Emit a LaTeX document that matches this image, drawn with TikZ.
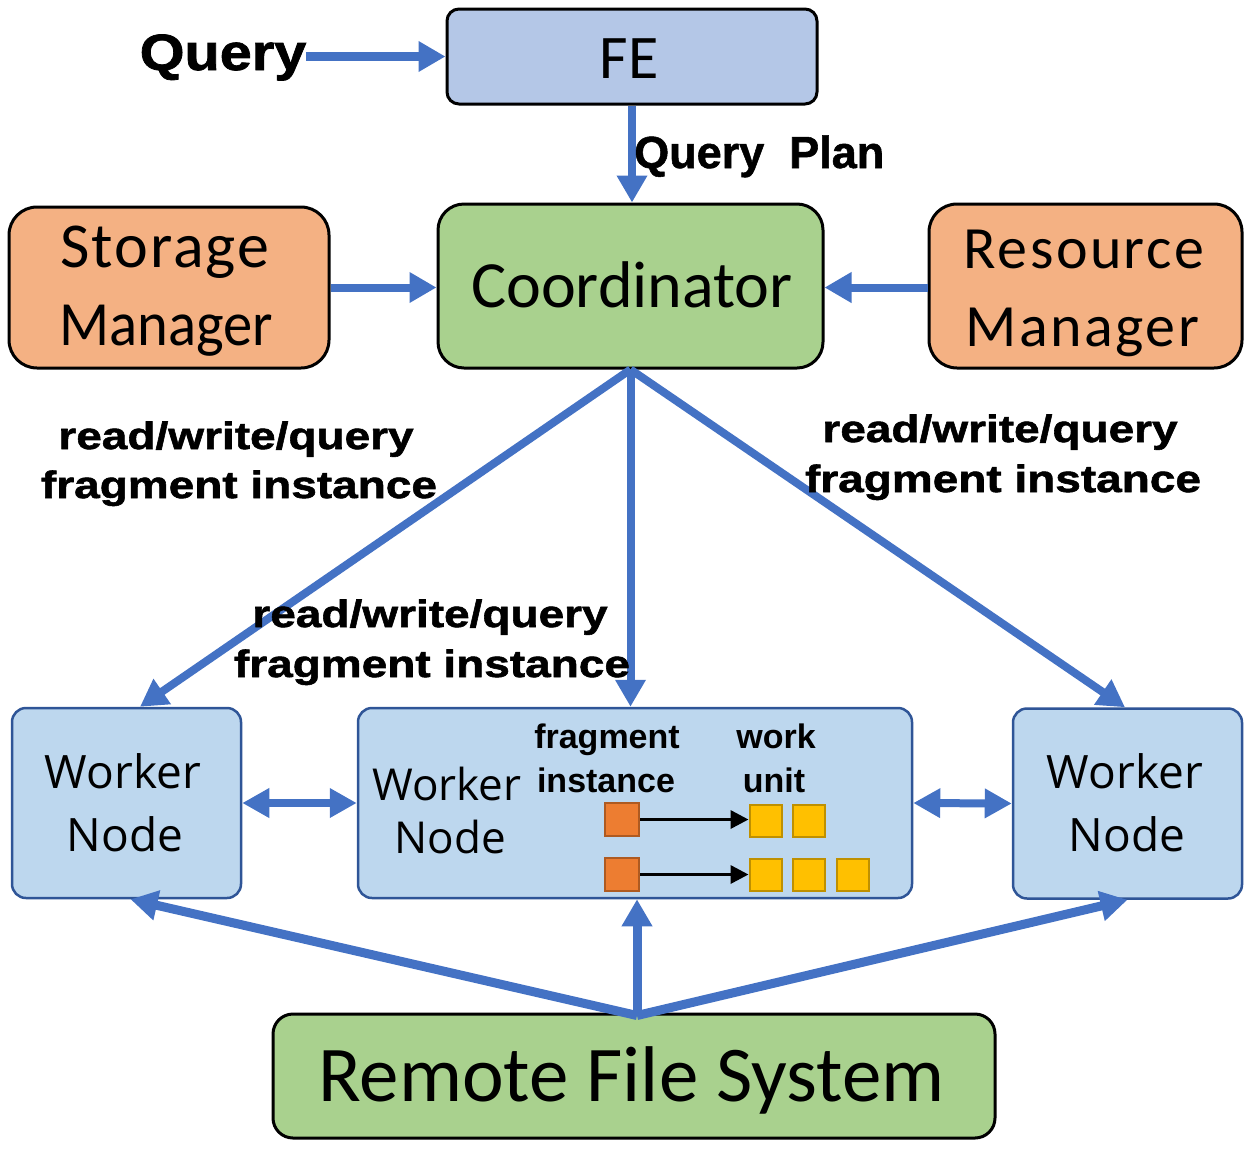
\documentclass[tikz,border=0pt]{standalone}
\usepackage{fontspec}
\setmainfont{Carlito}
\newfontfamily\lblfont{Liberation Sans}[FakeStretch=1.21, FakeBold=1.5]
\newfontfamily\qfont{Liberation Sans}[FakeStretch=1.13, FakeBold=1.5]
\newfontfamily\afont{Liberation Sans}
\newfontfamily\qpfont{Liberation Sans}[FakeBold=1.2]
\newfontfamily\wfont{Open Sans}
\newfontfamily\spfont{Carlito}[LetterSpace=4]
\newfontfamily\stfont{Carlito}[LetterSpace=3]
\newfontfamily\narfont{Carlito}[FakeStretch=0.93]
\usetikzlibrary{arrows.meta}
\definecolor{feblue}{HTML}{B4C7E7}
\definecolor{cgreen}{HTML}{A9D18E}
\definecolor{morange}{HTML}{F4B183}
\definecolor{wblue}{HTML}{BDD7EE}
\definecolor{wborder}{HTML}{2F5597}
\definecolor{ablue}{HTML}{4472C4}
\definecolor{fiorange}{HTML}{ED7D31}
\definecolor{fiborder}{HTML}{AE5A21}
\definecolor{wuyellow}{HTML}{FFC000}
\definecolor{wuborder}{HTML}{BF9000}
\begin{document}
\begin{tikzpicture}[x=1pt,y=-1pt,
  blackbox/.style={draw=black, line width=3pt, inner sep=0pt},
  workerbox/.style={draw=wborder, line width=2.5pt, fill=wblue, rounded corners=14pt, inner sep=0pt, minimum height=190pt},
  txt/.style={inner sep=0pt, anchor=base},
  bluearrow/.style={draw=ablue, line width=8pt, -{Triangle[length=27pt,width=29pt]}},
  bluedouble/.style={draw=ablue, line width=8pt, {Triangle[length=27pt,width=28pt]}-{Triangle[length=27pt,width=28pt]}},
  blackarrow/.style={draw=black, line width=3.5pt, -{Triangle[length=18pt,width=18pt]}},
  fisq/.style={draw=fiborder, fill=fiorange, line width=2pt, minimum width=34pt, minimum height=33pt, inner sep=0pt},
  wusq/.style={draw=wuborder, fill=wuyellow, line width=2pt, minimum width=32pt, minimum height=32pt, inner sep=0pt},
  lbl/.style={txt, font=\lblfont\bfseries\fontsize{38}{46}\selectfont},
  wtxt/.style={txt, font=\wfont\fontsize{46}{55}\selectfont},
  smalltxt/.style={txt, font=\afont\bfseries\fontsize{34}{40}\selectfont}
]
\useasboundingbox (0,0) rectangle (1252,1149);

% boxes
\node[blackbox, fill=feblue, rounded corners=12pt, minimum width=370pt, minimum height=95pt] (fe) at (632,56.5) {};
\node[blackbox, fill=cgreen, rounded corners=26pt, minimum width=385pt, minimum height=164pt] (coord) at (630.5,286) {};
\node[blackbox, fill=morange, rounded corners=28pt, minimum width=320pt, minimum height=161pt] (sm) at (169,287.5) {};
\node[blackbox, fill=morange, rounded corners=28pt, minimum width=313pt, minimum height=164pt] (rm) at (1085.5,286) {};
\node[workerbox, minimum width=229pt] (wl) at (126.5,803) {};
\node[workerbox, minimum width=554pt] (wc) at (635,803) {};
\node[workerbox, minimum width=229pt] (wr) at (1127.5,803.5) {};
\node[blackbox, fill=cgreen, rounded corners=20pt, minimum width=722pt, minimum height=124pt] (rfs) at (634,1076) {};

% fragment instances and work units
\node[fisq] (o1) at (622,819.5) {};
\node[fisq] (o2) at (622,874.5) {};
\node[wusq] (y1) at (765.5,821) {};
\node[wusq] (y2) at (808.5,821) {};
\node[wusq] (y3) at (765.5,875) {};
\node[wusq] (y4) at (808.5,875) {};
\node[wusq] (y5) at (853,875) {};
\draw[blackarrow] (o1.east) -- (o1.east -| y1.west);
\draw[blackarrow] (o2.east) -- (o2.east -| y3.west);

% query text
\node[txt, font=\qfont\bfseries\fontsize{51}{60}\selectfont] (qt) at (223,70) {Query};

% blue connectors
\draw[bluearrow, line width=9pt] (qt.east |- fe.west) -- (fe.west);
\draw[bluearrow] (fe.south) -- (fe.south |- coord.north);
\draw[bluearrow] (sm.east) -- (coord.west |- sm.east);
\draw[bluearrow] (rm.west |- sm.east) -- (coord.east |- sm.east);
\draw[bluearrow] (coord.south) -- ([xshift=13.5pt]wl.north);
\draw[bluearrow] (coord.south) -- (coord.south |- wc.north);
\draw[bluearrow] (coord.south) -- ([xshift=-2.5pt]wr.north);
\coordinate (ap) at ([xshift=3pt,yshift=-3pt]rfs.north);
\draw[bluearrow, line width=9pt] (ap) -- ([xshift=4pt]wl.south);
\draw[bluearrow, line width=9pt] (ap) -- (ap |- wc.south);
\draw[bluearrow, line width=9pt] (ap) -- (wr.south);
\draw[bluedouble] (wl.east) -- (wc.west);
\draw[bluedouble] (wc.east) -- (wr.west);

% texts
\node[txt, anchor=base west, font=\qpfont\bfseries\fontsize{45}{52}\selectfont] (qp) at (634,168) {Query\ \ Plan};
\node[txt, font=\fontsize{62}{70}\selectfont] (fet) at (629,78) {FE};
\node[txt, font=\fontsize{66}{70}\selectfont] (coordt) at (632,307) {Coordinator};
\node[txt, font=\stfont\fontsize{64}{70}\selectfont] (sm1) at (165,267) {Storage};
\node[txt, font=\narfont\fontsize{63}{70}\selectfont] (sm2) at (166.5,345) {Manager};
\node[txt, font=\spfont\fontsize{60}{70}\selectfont] (rm1) at (1084,268) {Resource};
\node[txt, font=\spfont\fontsize{60}{70}\selectfont] (rm2) at (1082.5,346) {Manager};
\node[wtxt] (wl1) at (123,788) {Worker};
\node[wtxt] (wl2) at (125,851) {Node};
\node[wtxt] (wr1) at (1125,788) {Worker};
\node[wtxt] (wr2) at (1127,851) {Node};
\node[wtxt, font=\wfont\fontsize{44}{52}\selectfont] (wc1) at (447,800) {Worker};
\node[wtxt, font=\wfont\fontsize{44}{52}\selectfont] (wc2) at (450,853) {Node};
\node[smalltxt] (fi1) at (607,748) {fragment};
\node[smalltxt] (fi2) at (606,792) {instance};
\node[smalltxt] (wu1) at (776,748) {work};
\node[smalltxt] (wu2) at (774,792) {unit};
\node[lbl] (ll1) at (236,449) {read/write/query};
\node[lbl] (ll2) at (239,498) {fragment instance};
\node[lbl] (rl1) at (1000,442) {read/write/query};
\node[lbl] (rl2) at (1003,492) {fragment instance};
\node[lbl] (ml1) at (430,627) {read/write/query};
\node[lbl] (ml2) at (432,677) {fragment instance};
\node[txt, font=\fontsize{79}{86}\selectfont] (rfst) at (631.5,1101) {Remote File System};
\end{tikzpicture}
\end{document}
